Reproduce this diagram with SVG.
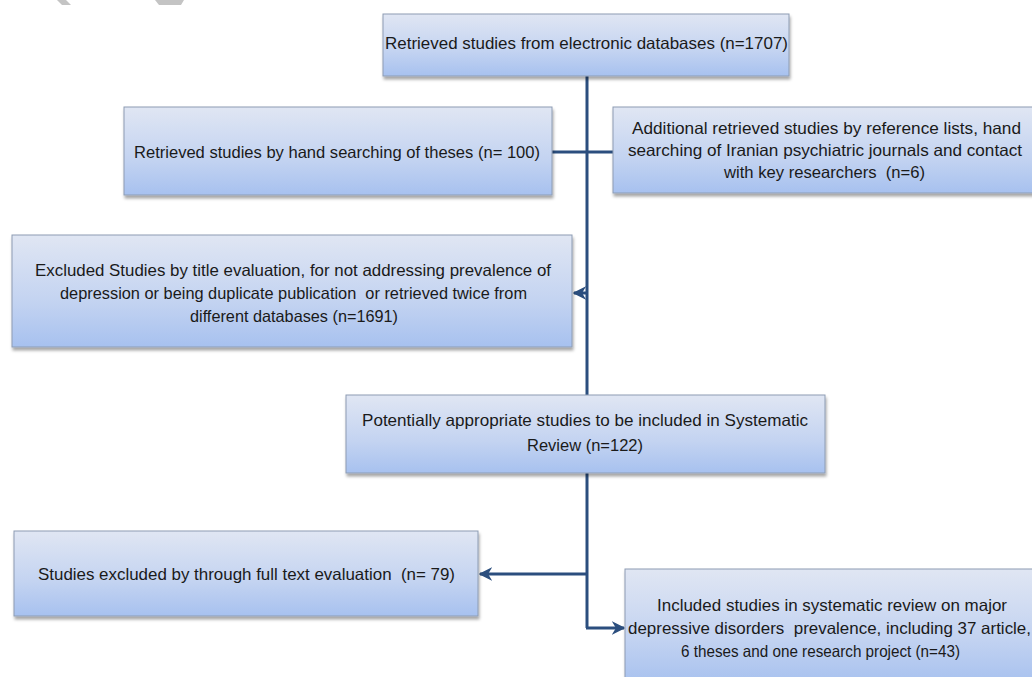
<svg xmlns="http://www.w3.org/2000/svg" width="1032" height="677" viewBox="0 0 1032 677">
<defs>
<linearGradient id="g" x1="0" y1="0" x2="0" y2="1">
<stop offset="0" stop-color="#e0e6f3"/>
<stop offset="0.6" stop-color="#c3d3f1"/>
<stop offset="1" stop-color="#a7c1ef"/>
</linearGradient>
<filter id="sh" x="-5%" y="-10%" width="110%" height="130%">
<feDropShadow dx="1" dy="3" stdDeviation="1.5" flood-color="#000" flood-opacity="0.35"/>
</filter>
<marker id="ah" viewBox="0 0 10 10" refX="9" refY="5" markerWidth="4.5" markerHeight="4.5" orient="auto" markerUnits="strokeWidth">
<path d="M0,0 L10,5 L0,10 L3,5 z" fill="#2b4e7e"/>
</marker>
</defs>
<style>
.box{fill:url(#g);stroke:#8d9cb3;stroke-width:1;filter:url(#sh)}
.t{font-family:"Liberation Sans",Arial,sans-serif;font-size:16.5px;fill:#1a1a1a}
.c{fill:none;stroke:#2b4e7e;stroke-width:3}
.wm{fill:#c4c4c4}
</style>
<g id="watermark">
<polygon class="wm" points="57,0 66,0 71,5 62,5"/>
<polygon class="wm" points="155,0 184,0 181,5 159,5"/>
</g>
<g id="connectors">
<line class="c" x1="587" y1="76" x2="587" y2="395"/>
<line class="c" x1="552" y1="152" x2="613" y2="152"/>
<line class="c" x1="587" y1="293" x2="574" y2="293" marker-end="url(#ah)" stroke-width="2.5"/>
<line class="c" x1="587" y1="473" x2="587" y2="628"/>
<line class="c" x1="587" y1="574" x2="480" y2="574" marker-end="url(#ah)"/>
<line class="c" x1="586" y1="628" x2="624" y2="628" marker-end="url(#ah)"/>
</g>
<g id="n1">
<rect class="box" x="383" y="14" width="406" height="62"/>
<text class="t" x="385" y="49" textLength="403" lengthAdjust="spacingAndGlyphs">Retrieved studies from electronic databases (n=1707)</text>
</g>
<g id="n2">
<rect class="box" x="124" y="107" width="428" height="88"/>
<text class="t" x="134" y="158" textLength="406" lengthAdjust="spacingAndGlyphs">Retrieved studies by hand searching of theses (n= 100)</text>
</g>
<g id="n3">
<rect class="box" x="613" y="107" width="425" height="86"/>
<text class="t" x="632" y="134" textLength="389" lengthAdjust="spacingAndGlyphs">Additional retrieved studies by reference lists, hand</text>
<text class="t" x="628" y="156" textLength="394" lengthAdjust="spacingAndGlyphs">searching of Iranian psychiatric journals and contact</text>
<text class="t" x="724" y="178" textLength="201" lengthAdjust="spacingAndGlyphs" xml:space="preserve">with key researchers  (n=6)</text>
</g>
<g id="n4">
<rect class="box" x="12" y="235" width="560" height="112"/>
<text class="t" x="35" y="276" textLength="516" lengthAdjust="spacingAndGlyphs">Excluded Studies by title evaluation, for not addressing prevalence of</text>
<text class="t" x="60" y="299" textLength="467" lengthAdjust="spacingAndGlyphs" xml:space="preserve">depression or being duplicate publication  or retrieved twice from</text>
<text class="t" x="190" y="322" textLength="208" lengthAdjust="spacingAndGlyphs">different databases (n=1691)</text>
</g>
<g id="n5">
<rect class="box" x="346" y="395" width="479" height="78"/>
<text class="t" x="362" y="426" textLength="446" lengthAdjust="spacingAndGlyphs">Potentially appropriate studies to be included in Systematic</text>
<text class="t" x="527" y="451" textLength="116" lengthAdjust="spacingAndGlyphs">Review (n=122)</text>
</g>
<g id="n6">
<rect class="box" x="14" y="531" width="464" height="85"/>
<text class="t" x="38" y="580" textLength="417" lengthAdjust="spacingAndGlyphs" xml:space="preserve">Studies excluded by through full text evaluation  (n= 79)</text>
</g>
<g id="n7">
<rect class="box" x="625" y="569" width="415" height="115"/>
<text class="t" x="657" y="611" textLength="350" lengthAdjust="spacingAndGlyphs">Included studies in systematic review on major</text>
<text class="t" x="628" y="634" textLength="403" lengthAdjust="spacingAndGlyphs" xml:space="preserve">depressive disorders  prevalence, including 37 article,</text>
<text class="t" x="681" y="657" textLength="279" lengthAdjust="spacingAndGlyphs">6 theses and one research project (n=43)</text>
</g>
</svg>
